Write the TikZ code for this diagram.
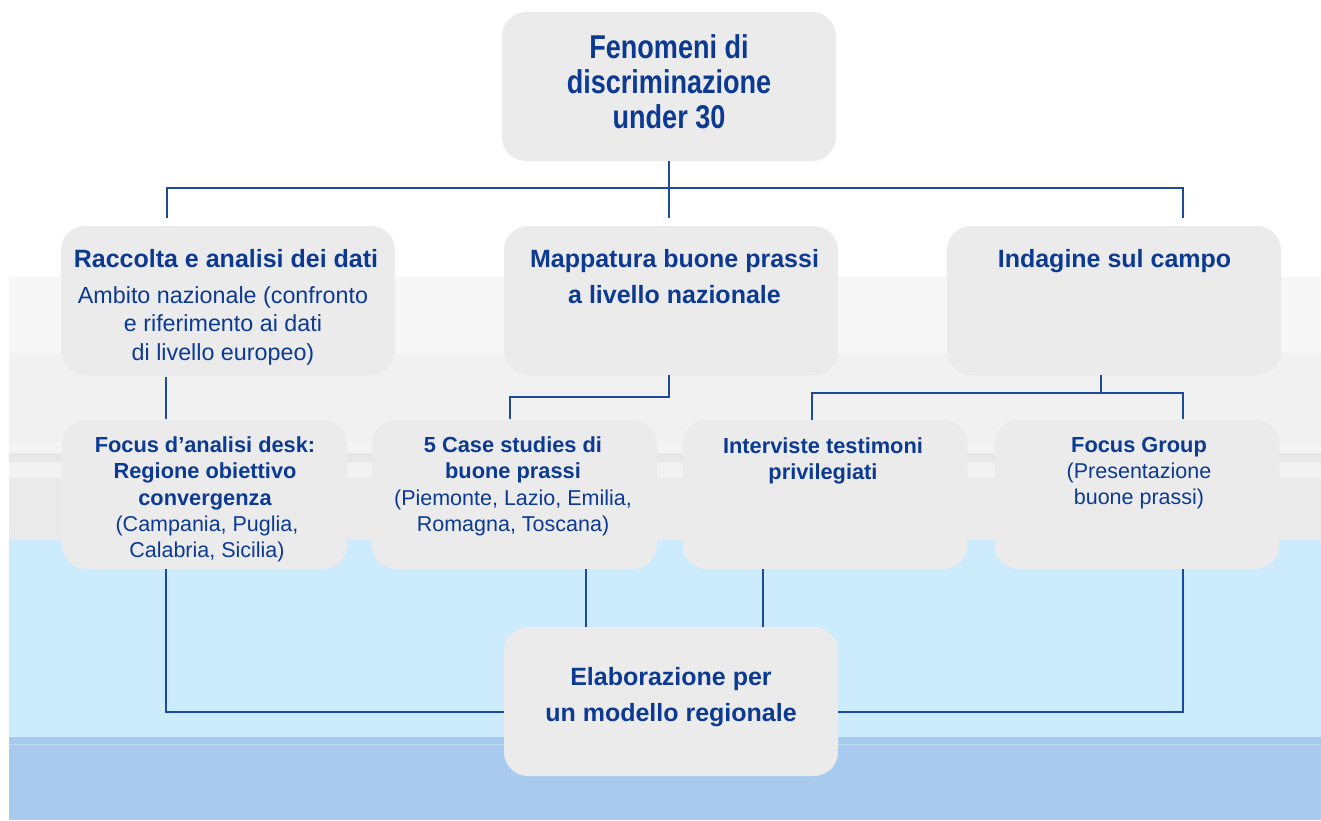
\documentclass[tikz,border=0pt]{standalone}
\usepackage{fontspec}
\setmainfont{Liberation Sans}
\newfontfamily\narrowsf[FakeStretch=0.82]{Liberation Sans}
\usetikzlibrary{calc}
\definecolor{txtblue}{RGB}{12,58,146}
\definecolor{lineblue}{RGB}{30,74,158}
\definecolor{boxgray}{RGB}{235,235,235}
\definecolor{bandA}{RGB}{247,247,247}
\definecolor{bandB}{RGB}{241,241,241}
\definecolor{bandC}{RGB}{244,244,244}
\definecolor{bandD}{RGB}{231,231,231}
\definecolor{bandE}{RGB}{242,242,242}
\definecolor{bandF}{RGB}{234,234,234}
\definecolor{lightblue}{RGB}{204,235,252}
\definecolor{darkband}{RGB}{168,202,238}
\definecolor{bandline}{RGB}{196,220,243}
\newcommand\tstrut{\rule{0pt}{40pt}}
\begin{document}
\begin{tikzpicture}[x=1pt,y=-1pt,
  box/.style={fill=boxgray,rounded corners=24pt,draw=none,inner sep=0pt,minimum height=149pt},
  wbox/.style={box,minimum width=334pt},
  nbox/.style={box,minimum width=285pt},
  conn/.style={draw=lineblue,line width=2.5pt},
  txt/.style={text=txtblue,align=center,inner sep=0pt,anchor=north},
  titlefont/.style={font=\narrowsf\bfseries\fontsize{33}{35}\selectfont},
  headfont/.style={font=\bfseries\fontsize{25}{36}\selectfont},
  subfont/.style={font=\fontsize{23.3}{28.5}\selectfont},
  smallhead/.style={font=\bfseries\fontsize{21.8}{26.5}\selectfont},
  smallsub/.style={font=\fontsize{21.5}{26.5}\selectfont}]
\useasboundingbox (0,0) rectangle (1321,820);
% background
\fill[white] (0,0) rectangle (1321,820);
\fill[bandA] (9,277) rectangle (1321,353);
\fill[bandB] (9,353) rectangle (1321,442);
\fill[bandC] (9,442) rectangle (1321,453);
\fill[bandD] (9,453) rectangle (1321,462);
\fill[bandE] (9,462) rectangle (1321,478);
\fill[bandF] (9,478) rectangle (1321,540);
\fill[lightblue] (9,540) rectangle (1321,737);
\fill[darkband] (9,737) rectangle (1321,820);
\draw[bandline,line width=1pt] (9,744.5) -- (1321,744.5);
% boxes
\node[wbox] (top) at (669,86.5) {};
\node[wbox] (rac) at (228,300.5) {};
\node[wbox] (map) at (671,300.5) {};
\node[wbox] (ind) at (1114,300.5) {};
\node[nbox] (desk) at (204.5,494.5) {};
\node[nbox] (case) at (514.5,494.5) {};
\node[nbox] (intv) at (825,494.5) {};
\node[nbox] (fg) at (1137,494.5) {};
\node[wbox] (elab) at (671,701.5) {};
% texts
\node[txt,titlefont] (topT) at (669,18.3) {\tstrut Fenomeni di\\discriminazione\\under 30};
\node[txt,headfont] (racH) at (226,227) {\tstrut Raccolta e analisi dei dati};
\node[txt,subfont] (racS) at (223,263) {\tstrut Ambito nazionale (confronto\\e riferimento ai dati\\di livello europeo)};
\node[txt,headfont] (mapH) at (674.5,227) {\tstrut Mappatura buone prassi\\a livello nazionale};
\node[txt,headfont] (indH) at (1114.5,227) {\tstrut Indagine sul campo};
\node[txt,smallhead] (deskH) at (205,412) {\tstrut Focus d’analisi desk:\\Regione obiettivo\\convergenza};
\node[txt,smallsub] (deskS) at (207,491) {\tstrut (Campania, Puglia,\\Calabria, Sicilia)};
\node[txt,smallhead] (caseH) at (513,412) {\tstrut 5 Case studies di\\buone prassi};
\node[txt,smallsub] (caseS) at (513,465) {\tstrut (Piemonte, Lazio, Emilia,\\Romagna, Toscana)};
\node[txt,smallhead] (intvH) at (823,413) {\tstrut Interviste testimoni\\privilegiati};
\node[txt,smallhead] (fgH) at (1139,412) {\tstrut Focus Group};
\node[txt,smallsub] (fgS) at (1139,438) {\tstrut (Presentazione\\buone prassi)};
\node[txt,headfont] (elabT) at (671,645) {\tstrut Elaborazione per\\un modello regionale};
% junction coordinates
\coordinate (hM) at (669,188);
\coordinate (hL) at (167,188);
\coordinate (hR) at (1183,188);
\coordinate (lL) at (166,400);
\coordinate (cN) at (510,397);
\coordinate (iJ) at (1101,393);
\coordinate (iL) at (812,393);
\coordinate (iR) at (1183,393);
\coordinate (bL) at (166,712);
\coordinate (bR) at (1183,712);
\coordinate (bC) at (586,600);
\coordinate (bI) at (763,600);
% connectors
\draw[conn,shorten >=8pt] (top.south -| hM) -- (hM |- map.north);
\draw[conn,shorten <=8pt,shorten >=8pt] (hL |- rac.north) -- (hL) -- (hR) -- (hR |- ind.north);
\draw[conn,shorten <=2pt,shorten >=1pt] (lL |- rac.south) -- (lL |- desk.north);
\draw[conn,shorten >=1pt] (hM |- map.south) -- (hM |- cN) -- (cN) -- (cN |- case.north);
\draw[conn] (iJ |- ind.south) -- (iJ);
\draw[conn,shorten >=1pt] (iL |- intv.north) -- (iL) -- (iR) -- (iR |- fg.north);
\draw[conn] (bL |- desk.south) -- (bL) -- (bL -| elab.west);
\draw[conn] (bR |- fg.south) -- (bR) -- (bR -| elab.east);
\draw[conn] (bC |- case.south) -- (bC |- elab.north);
\draw[conn] (bI |- intv.south) -- (bI |- elab.north);
\end{tikzpicture}
\end{document}
